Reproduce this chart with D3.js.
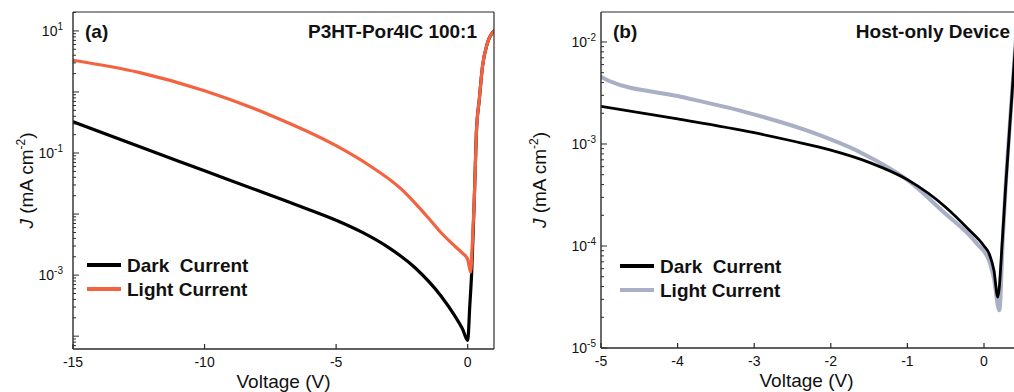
<!DOCTYPE html>
<html>
<head>
<meta charset="utf-8">
<script src="https://cdn.jsdelivr.net/npm/d3@7"></script>
<style>
  html, body { margin: 0; padding: 0; background: #fff; }
  svg { display: block; font-family: "Liberation Sans", Arial, sans-serif; }
</style>
</head>
<body>
<svg id="chart" width="1014" height="392"></svg>
<script>
// ---------- Data ----------
// Panel (a): P3HT-Por4IC 100:1
const darkA_V = [-15, -12, -10, -8, -7, -6, -5, -4, -3, -2, -1, -0.5, -0.2, 0, 0.08, 0.15, 0.25, 0.33, 0.44, 0.56, 0.75, 1.0];
const darkA_J = [0.324, 0.107, 0.0513, 0.0245, 0.0170, 0.0117, 0.00794, 0.00501, 0.00282, 0.00132, 0.000447, 0.000219, 0.000132, 0.0000851, 0.000316, 0.00107, 0.0170, 0.214, 0.741, 2.57, 6.31, 10.0];
const lightA_V = [-15, -12.5, -10, -7.5, -5, -3.75, -2.5, -2.0, -1.5, -1.0, -0.5, -0.2, 0, 0.11, 0.18, 0.25, 0.33, 0.44, 0.56, 0.75, 1.0];
const lightA_J = [3.31, 2.09, 1.047, 0.417, 0.132, 0.0631, 0.0251, 0.0151, 0.00871, 0.0049, 0.00302, 0.00229, 0.00182, 0.00112, 0.00355, 0.0170, 0.214, 0.741, 2.57, 6.31, 10.0];

// Panel (b): Host-only Device
const darkB_V = [-5, -4, -3, -2.5, -2, -1.5, -1.0, -0.5, -0.2, 0, 0.07, 0.13, 0.18, 0.24, 0.28, 0.36, 0.45];
const darkB_J = [0.00234, 0.00176, 0.00129, 0.00107, 0.000871, 0.000661, 0.000447, 0.00024, 0.000145, 0.0001, 0.0000832, 0.0000575, 0.0000316, 0.000115, 0.000355, 0.00269, 0.0251];
const lightB_V = [-5, -4.9, -4.0, -3.15, -2.27, -1.62, -0.97, -0.54, -0.10, 0.07, 0.13, 0.20, 0.245, 0.28, 0.36, 0.45];
const lightB_J = [0.00457, 0.00417, 0.00295, 0.00209, 0.00132, 0.000832, 0.000427, 0.000219, 0.000107, 0.0000708, 0.0000479, 0.0000234, 0.000115, 0.000355, 0.00269, 0.0251];

const seriesNames = ["Dark  Current", "Light Current"];
const xTicksA = [-15, -10, -5, 0];
const xTicksB = [-5, -4, -3, -2, -1, 0];
const yLabelExpA = [1, -1, -3];
const yLabelExpB = [-2, -3, -4, -5];

// ---------- Drawing ----------
const svg = d3.select("#chart");
const AX = "#2b2b2b";

function logTicks(domain) {
  const lo = Math.floor(Math.log10(domain[0])), hi = Math.ceil(Math.log10(domain[1]));
  const out = [];
  for (let d = lo; d <= hi; d++) for (let m = 1; m <= 9; m++) {
    const v = m * Math.pow(10, d);
    if (v >= domain[0] * 0.999 && v <= domain[1] * 1.001) out.push({v, major: m === 1, exp: d});
  }
  return out;
}

function panel(cfg) {
  const g = svg.append("g");
  const x = d3.scaleLinear().domain(cfg.xDomain).range([cfg.left, cfg.right]);
  const y = d3.scaleLog().domain(cfg.yDomain).range([cfg.bottom, cfg.top]);
  const clipId = "clip" + cfg.id;
  svg.append("clipPath").attr("id", clipId).append("rect")
    .attr("x", cfg.left).attr("y", cfg.top).attr("width", cfg.right - cfg.left).attr("height", cfg.bottom - cfg.top);

  const line = d3.line().x(d => x(d[0])).y(d => y(d[1])).curve(d3.curveMonotoneX);
  const plot = g.append("g").attr("clip-path", `url(#${clipId})`);
  cfg.drawOrder.forEach(s => {
    plot.append("path").datum(d3.zip(s.V, s.J))
      .attr("d", line).attr("fill", "none").attr("stroke", s.color)
      .attr("stroke-width", s.width).attr("stroke-linejoin", "round").attr("stroke-linecap", "round");
  });

  // frame
  g.append("line").attr("x1", cfg.left).attr("x2", cfg.left).attr("y1", cfg.top).attr("y2", cfg.bottom).attr("stroke", AX).attr("stroke-width", 1.4);
  g.append("line").attr("x1", cfg.left).attr("x2", cfg.right).attr("y1", cfg.bottom).attr("y2", cfg.bottom).attr("stroke", AX).attr("stroke-width", 1.4);
  g.append("line").attr("x1", cfg.left).attr("x2", cfg.right).attr("y1", cfg.top).attr("y2", cfg.top).attr("stroke", AX).attr("stroke-width", 1.2);
  if (cfg.rightBorder) g.append("line").attr("x1", cfg.right).attr("x2", cfg.right).attr("y1", cfg.top).attr("y2", cfg.bottom).attr("stroke", AX).attr("stroke-width", 1.2);

  // x ticks (inward)
  cfg.xTicks.forEach(t => {
    g.append("line").attr("x1", x(t)).attr("x2", x(t)).attr("y1", cfg.bottom).attr("y2", cfg.bottom - 5).attr("stroke", AX).attr("stroke-width", 1.2);
    g.append("text").attr("x", x(t)).attr("y", cfg.bottom + 18).attr("text-anchor", "middle")
      .attr("font-size", 14).attr("fill", "#111").text(t);
  });
  // y ticks (inward)
  logTicks(cfg.yDomain).forEach(t => {
    const yy = y(t.v);
    g.append("line").attr("x1", cfg.left).attr("x2", cfg.left + (t.major ? 6 : 3)).attr("y1", yy).attr("y2", yy).attr("stroke", AX).attr("stroke-width", 1);
    if (t.major && cfg.yLabels.includes(t.exp)) {
      const tx = g.append("text").attr("x", cfg.left - cfg.yLabelGap).attr("y", yy + 5).attr("text-anchor", "end").attr("font-size", 14).attr("fill", "#111");
      tx.append("tspan").text("10");
      tx.append("tspan").attr("dy", -6).attr("font-size", 10).text(t.exp);
    }
  });

  // axis titles
  g.append("text").attr("x", (cfg.left + cfg.titleRight) / 2).attr("y", cfg.bottom + 39).attr("text-anchor", "middle")
    .attr("font-size", 19).attr("fill", "#111").text("Voltage (V)");
  const yl = g.append("text").attr("transform", `translate(${cfg.yTitleX},${(cfg.top + cfg.bottom) / 2}) rotate(-90)`)
    .attr("text-anchor", "middle").attr("font-size", 19).attr("fill", "#111");
  yl.append("tspan").attr("font-style", "italic").text("J");
  yl.append("tspan").text(" (mA cm");
  yl.append("tspan").attr("dy", -8).attr("font-size", 12).text("-2");
  yl.append("tspan").attr("dy", 8).text(")");

  // panel labels
  g.append("text").attr("x", cfg.left + 12).attr("y", cfg.top + 26).attr("font-size", 19).attr("font-weight", "bold").attr("fill", "#111").text(cfg.tag);
  g.append("text").attr("x", cfg.titleX).attr("y", cfg.top + 26).attr("text-anchor", "end").attr("font-size", 19).attr("font-weight", "bold").attr("fill", "#111").text(cfg.title);

  // legend
  cfg.legendOrder.forEach((s, i) => {
    const ly = cfg.legendY + i * 24;
    g.append("line").attr("x1", cfg.legendX).attr("x2", cfg.legendX + 34).attr("y1", ly).attr("y2", ly)
      .attr("stroke", s.color).attr("stroke-width", 4);
    g.append("text").attr("x", cfg.legendX + 40).attr("y", ly + 7).attr("font-size", 19).attr("font-weight", "bold")
      .attr("fill", "#111").attr("xml:space", "preserve").style("white-space", "pre").text(s.name);
  });
}

const darkSeriesA = {name: seriesNames[0], V: darkA_V, J: darkA_J, color: "#000000", width: 3.2};
const lightSeriesA = {name: seriesNames[1], V: lightA_V, J: lightA_J, color: "#f4623f", width: 3.2};
panel({
  id: "A", left: 73, right: 494, top: 12, bottom: 349, titleRight: 494,
  xDomain: [-15, 1], yDomain: [Math.pow(10, -4.21), Math.pow(10, 1.31)],
  xTicks: xTicksA, yLabels: yLabelExpA, yLabelGap: 10, yTitleX: 33,
  tag: "(a)", title: "P3HT-Por4IC 100:1", titleX: 477,
  legendX: 87, legendY: 265,
  rightBorder: true,
  drawOrder: [darkSeriesA, lightSeriesA],
  legendOrder: [darkSeriesA, lightSeriesA]
});

const darkSeriesB = {name: seriesNames[0], V: darkB_V, J: darkB_J, color: "#000000", width: 2.8};
const lightSeriesB = {name: seriesNames[1], V: lightB_V, J: lightB_J, color: "#a9afc4", width: 4};
panel({
  id: "B", left: 601, right: 1016, top: 12, bottom: 348, titleRight: 1012,
  xDomain: [-5, (1016 - 601) / 76.6 - 5], yDomain: [1e-5, Math.pow(10, -1.706)],
  xTicks: xTicksB, yLabels: yLabelExpB, yLabelGap: 5, yTitleX: 546,
  tag: "(b)", title: "Host-only Device", titleX: 1010,
  legendX: 620, legendY: 266,
  rightBorder: false,
  drawOrder: [lightSeriesB, darkSeriesB],
  legendOrder: [darkSeriesB, lightSeriesB]
});
</script>
</body>
</html>
